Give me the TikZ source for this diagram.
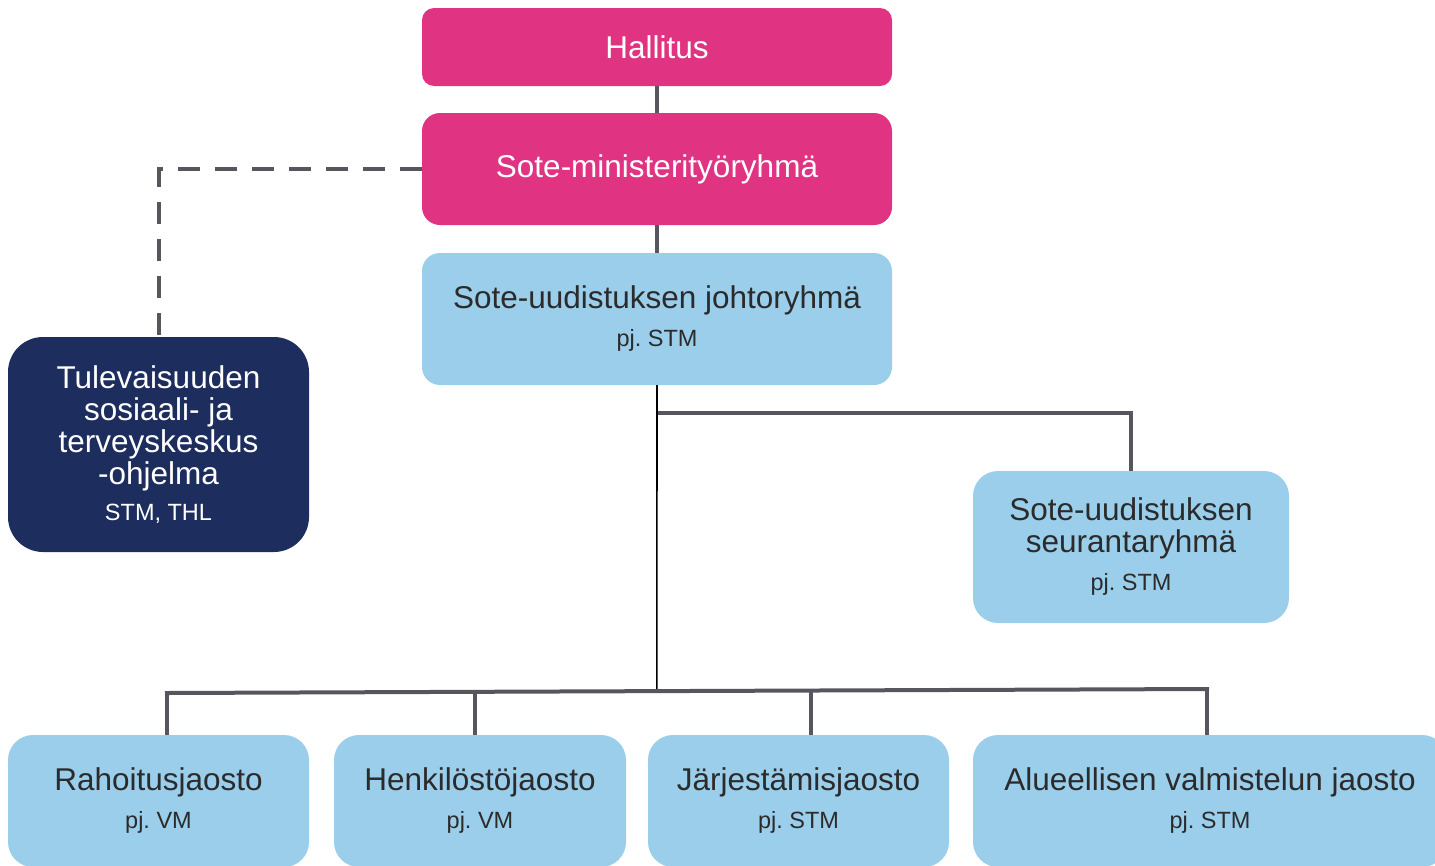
\documentclass[tikz,border=0pt]{standalone}
\usepackage{fontspec}
\setmainfont{Liberation Sans}
\usetikzlibrary{calc}
\frenchspacing
\definecolor{magenta}{HTML}{E03482}
\definecolor{lblue}{HTML}{9ACEEB}
\definecolor{navy}{HTML}{1D2D5E}
\definecolor{lgray}{HTML}{57565F}
\definecolor{dtext}{HTML}{2B2B2B}
\newcommand{\mainsz}{\fontsize{31.5}{32}\selectfont}
\newcommand{\pjfont}{\fontsize{23.5}{32}\selectfont}
\tikzset{
  box/.style={inner sep=0pt, align=center, font=\mainsz},
  pinkbox/.style={box, fill=magenta, text=white},
  bluebox/.style={box, fill=lblue, text=dtext},
  navybox/.style={box, fill=navy, text=white},
  conn/.style={draw=lgray, line width=4pt},
  thinconn/.style={draw=black, line width=1.6pt},
  dashconn/.style={draw=lgray, line width=4pt, dash pattern=on 22pt off 15pt}
}
\begin{document}
\begin{tikzpicture}[x=1pt,y=-1pt]
\useasboundingbox (0,0) rectangle (1435,865);
\clip (0,0) rectangle (1435,865);
\node[pinkbox, minimum width=470pt, minimum height=78pt, rounded corners=12pt] (hall) at (657,47) {Hallitus};
\node[pinkbox, minimum width=470pt, minimum height=112pt, rounded corners=18pt] (smin) at (657,169) {Sote-ministerityöryhmä};
\node[bluebox, minimum width=470pt, minimum height=132pt, rounded corners=18pt] (johto) at (657,319) {Sote-uudistuksen johtoryhmä\\[6pt]{\pjfont pj. STM}};
\node[navybox, minimum width=301pt, minimum height=215pt, rounded corners=35pt] (tul) at (158.5,444.5) {Tulevaisuuden\\sosiaali- ja\\terveyskeskus\\-ohjelma\\[4pt]{\pjfont STM, THL}};
\node[bluebox, minimum width=316pt, minimum height=152pt, rounded corners=25pt] (seur) at (1131,547) {Sote-uudistuksen\\seurantaryhmä\\[6pt]{\pjfont pj. STM}};
\node[bluebox, minimum width=301pt, minimum height=132pt, rounded corners=25pt] (rah) at (158.5,801) {Rahoitusjaosto\\[6pt]{\pjfont pj. VM}};
\node[bluebox, minimum width=292pt, minimum height=132pt, rounded corners=25pt] (henk) at (480,801) {Henkilöstöjaosto\\[6pt]{\pjfont pj. VM}};
\node[bluebox, minimum width=301pt, minimum height=132pt, rounded corners=25pt] (jarj) at (798.5,801) {Järjestämisjaosto\\[6pt]{\pjfont pj. STM}};
\node[bluebox, minimum width=474pt, minimum height=132pt, rounded corners=25pt] (alue) at (1210,801) {Alueellisen valmistelun jaosto\\[6pt]{\pjfont pj. STM}};
% connectors
\draw[conn] (hall.south) -- (smin.north);
\draw[conn] (smin.south) -- (johto.north);
\coordinate (dcorner) at (159,169);
\draw[dashconn] (smin.west) -- (dcorner) -- (dcorner |- tul.north);
\coordinate (sbranch) at (657,413);
\draw[conn] (sbranch) -| (seur.north);
\coordinate (busL) at (167,693);
\coordinate (busR) at (1207,689);
\coordinate (busM) at ($(busL)!0.471!(busR)$);
\coordinate (busH) at ($(busL)!0.296!(busR)$);
\coordinate (busJ) at ($(busL)!0.619!(busR)$);
\draw[thinconn] (johto.south) -- (busM);
\draw[conn, line cap=rect] (busL) -- (busR);
\draw[conn] (busL) -- (busL |- rah.north);
\draw[conn] (busH) -- (busH |- henk.north);
\draw[conn] (busJ) -- (busJ |- jarj.north);
\draw[conn] (busR) -- (busR |- alue.north);
\end{tikzpicture}
\end{document}
